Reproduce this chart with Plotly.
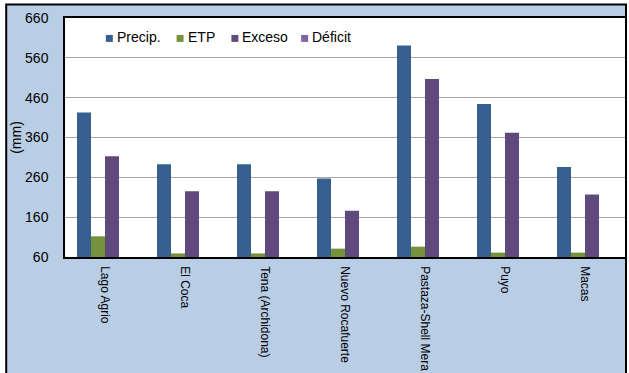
import plotly.graph_objects as go

categories = ["Lago Agrio", "El Coca", "Tena (Archidona)", "Nuevo Rocafuerte",
              "Pastaza-Shell Mera", "Puyo", "Macas"]
precip = [423, 293, 293, 257, 591, 444, 286]
etp = [112, 69, 69, 81, 86, 71, 71]
exceso = [313, 225, 225, 176, 507, 372, 217]
deficit = [0, 0, 0, 0, 0, 0, 0]
series_names = ["Precip.", "ETP", "Exceso", "Déficit"]
series_colors = ["#35608F", "#76933C", "#604A7B", "#8064A2"]
y_ticks = [60, 160, 260, 360, 460, 560, 660]

W, H = 629, 373
ML, MR, MT, MB = 65, 2, 18, 115
pw = W - ML - MR
ph = H - MT - MB

def px_x(p):
    return (p - ML) / pw

def px_y(p):
    return (H - MB - p) / ph

fig = go.Figure()
for name, vals, col in zip(series_names, [precip, etp, exceso, deficit], series_colors):
    fig.add_trace(go.Bar(x=categories, y=vals, name=name, marker_color=col,
                         marker_line_width=0, showlegend=False))

# background panel and plot area
fig.add_shape(type="rect", xref="paper", yref="paper",
              x0=px_x(6), x1=px_x(628), y0=px_y(390), y1=px_y(4.5),
              fillcolor="#B9CDE5", line=dict(color="black", width=2), layer="below")
fig.add_shape(type="rect", xref="paper", yref="paper",
              x0=0, x1=1, y0=0, y1=1,
              fillcolor="white", line=dict(width=0), layer="below")

# legend (manual, to match the compact spacing of the original)
legend_x = [106, 177, 232, 302]
for name, col, lx in zip(series_names, series_colors, legend_x):
    fig.add_shape(type="rect", xref="paper", yref="paper",
                  x0=px_x(lx), x1=px_x(lx + 7), y0=px_y(42), y1=px_y(35),
                  fillcolor=col, line=dict(width=0))
    fig.add_annotation(xref="paper", yref="paper", x=px_x(lx + 9), y=px_y(37.5),
                       xanchor="left", yanchor="middle", text=name, showarrow=False,
                       font=dict(size=14, color="black"))

fig.update_layout(
    width=W, height=H,
    margin=dict(l=ML, r=MR, t=MT, b=MB),
    paper_bgcolor="white", plot_bgcolor="white",
    barmode="group", bargap=0.3, bargroupgap=0,
    font=dict(family="Arial, Liberation Sans", color="black"),
    showlegend=False,
)
fig.update_yaxes(range=[60, 660], tickvals=y_ticks, showgrid=True,
                 gridcolor="#A6A6A6", gridwidth=1, showline=True, linecolor="black",
                 linewidth=1.5, mirror=True, tickfont=dict(size=14), ticks="",
                 ticklabelstandoff=12,
                 title=dict(text="(mm)", font=dict(size=14), standoff=0))
fig.update_xaxes(showline=True, linecolor="black", linewidth=1.5, mirror=True,
                 tickangle=90, tickfont=dict(size=12), ticks="", ticklabelstandoff=5)

fig.write_html("out.html")
